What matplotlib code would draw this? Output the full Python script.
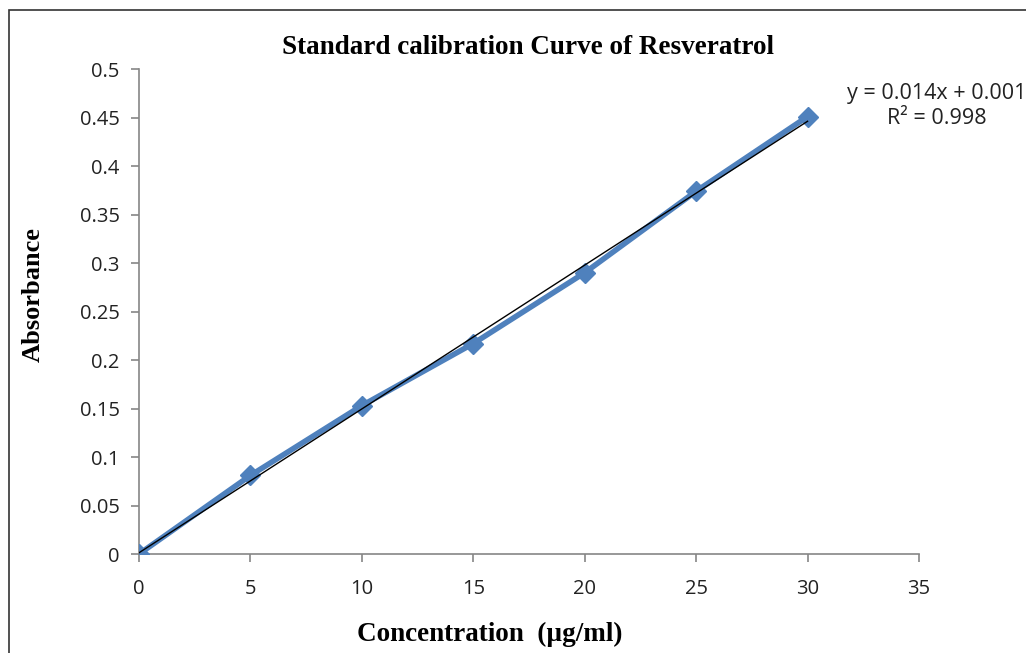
import numpy as np
import matplotlib
matplotlib.use('Agg')
import matplotlib.pyplot as plt
from matplotlib.patches import Rectangle

# concentration (ug/ml) and absorbance
conc = [0, 5, 10, 15, 20, 25, 30]
absorb = [0.0, 0.081, 0.153, 0.217, 0.290, 0.374, 0.451]
xticks = [0, 5, 10, 15, 20, 25, 30, 35]
yticks = [0, 0.05, 0.1, 0.15, 0.2, 0.25, 0.3, 0.35, 0.4, 0.45, 0.5]

blue = '#4F81BD'
grey = '#868686'
serif = ['Liberation Serif', 'DejaVu Serif']
sans = ['Open Sans', 'DejaVu Sans']

fig = plt.figure(figsize=(10.26, 6.53), dpi=100)
ax = fig.add_axes([0.1355, 0.1516, 0.7602, 0.7427])

# outer frame of the chart area
fig.patches.append(Rectangle((9/1026, -0.1), 1.1, 1 - 10/653 + 0.1, transform=fig.transFigure,
                             fill=False, edgecolor='#333333', linewidth=1.2))

ax.plot(conc, absorb, color=blue, linewidth=4, marker='D', markersize=10,
        markerfacecolor=blue, markeredgecolor=blue, zorder=3)

# linear trendline
m, b = np.polyfit(conc, absorb, 1)
xs = np.array([conc[0], conc[-1]])
ax.plot(xs, m*xs + b, color='black', linewidth=1, zorder=4)

ax.set_xlim(0, 35)
ax.set_ylim(0, 0.5)
ax.set_xticks(xticks)
ax.set_yticks(yticks)
ax.set_xticklabels([str(t) for t in xticks], family=sans, fontsize=14.5)
ax.set_yticklabels(['0', '0.05', '0.1', '0.15', '0.2', '0.25', '0.3', '0.35', '0.4', '0.45', '0.5'],
                   family=sans, fontsize=14.5)
ax.tick_params(direction='out', length=6, width=1.2, color=grey, pad=8, labelcolor='#222222')
ax.tick_params(axis='x', pad=12)
for s in ['top', 'right']:
    ax.spines[s].set_visible(False)
for s in ['left', 'bottom']:
    ax.spines[s].set_color(grey)
    ax.spines[s].set_linewidth(1.2)

fig.text(528/1026, 1 - 47/653, 'Standard calibration Curve of Resveratrol',
         ha='center', va='center', family=serif, fontweight='bold', fontsize=19.5)
fig.text(33/1026, 1 - 295/653, 'Absorbance', rotation=90, ha='center', va='center',
         family=serif, fontweight='bold', fontsize=19)
fig.text(490/1026, 1 - 634/653, 'Concentration  (µg/ml)', ha='center', va='center',
         family=serif, fontweight='bold', fontsize=19.5)

fig.text(1026/1026, 1 - 93/653, 'y = 0.014x + 0.001', ha='right', va='center',
         family=sans, fontsize=15.5, color='#222222')
fig.text(937/1026, 1 - 119/653, 'R² = 0.998', ha='center', va='center',
         family=sans, fontsize=15.5, color='#222222')

fig.savefig('out.png', dpi=100)
